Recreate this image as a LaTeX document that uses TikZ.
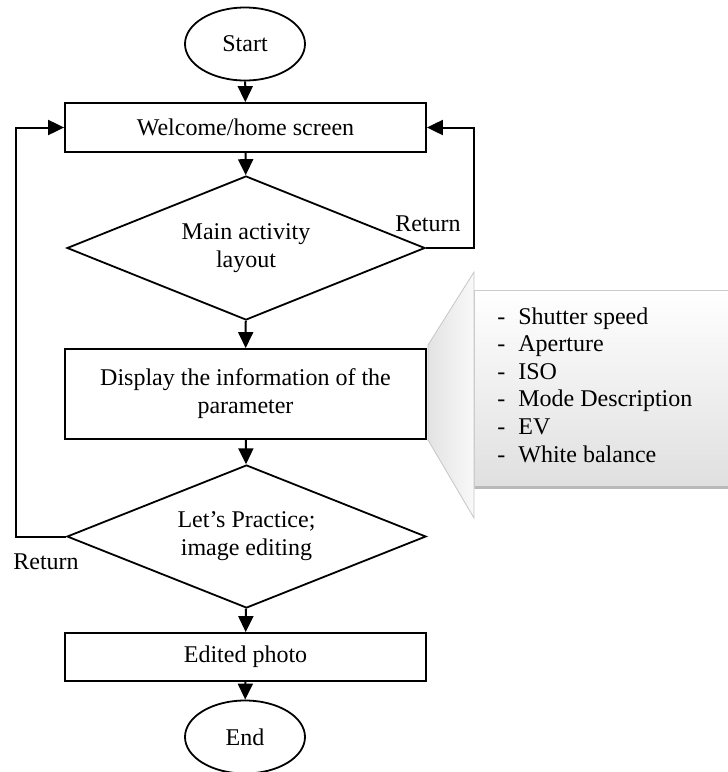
\documentclass[tikz,border=0pt]{standalone}
\usepackage{fontspec}
\setmainfont{Liberation Serif}
\usetikzlibrary{shapes.geometric,arrows.meta}

\begin{document}
\begin{tikzpicture}[x=0.5pt,y=-0.5pt,
    every node/.style={font=\fontsize{12}{14}\selectfont},
    termbox/.style={draw,ellipse,line width=0.9pt,minimum width=60pt,minimum height=36.5pt,inner sep=0pt},
    procbox/.style={draw,rectangle,line width=0.9pt,minimum width=180.5pt,align=center,inner sep=0pt},
    decbox/.style={draw,diamond,line width=0.9pt,aspect=2.5,minimum width=179pt,minimum height=72pt,align=center,inner sep=0pt},
    arr/.style={line width=1pt,-{Triangle[length=8pt,width=7.5pt]}}]
\useasboundingbox (0,0) rectangle (728,772);
\shadedraw[draw=gray!45,left color=gray!22,right color=gray!5] (474,272)--(428,345)--(428,440)--(474,518)--cycle;
\shadedraw[draw=gray!40,top color=white,bottom color=gray!25] (474,290) rectangle (730,488);
\draw[gray!55,line width=1.5pt] (475,487.5)--(730,487.5);
\foreach \t [count=\i] in {Shutter speed,Aperture,ISO,Mode Description,EV,White balance}
{       \node[anchor=base west,inner sep=0pt] (par\i) at (497,296.4+27.6*\i) {\makebox[10.5pt][l]{-}\t};
}
\node[termbox] (start) at (245,44) {Start};
\node[procbox,minimum height=24.5pt] (welcome) at (245.5,127.5) {Welcome/home screen};
\node[decbox] (main) at (246,248) {Main activity\\layout};
\node[procbox,minimum height=45pt] (display) at (245.5,394) {Display the information of the\\parameter};
\node[decbox,minimum width=179.5pt,minimum height=71.5pt] (practice) at (246.5,536.5) {Let’s Practice;\\image editing};
\node[procbox,minimum height=24pt] (edited) at (245.5,657) {Edited photo};
\node[termbox] (end) at (245,737) {End};
\node[anchor=base east,inner sep=0pt] (retR) at (461,231) {Return};
\node[anchor=base west,inner sep=0pt] (retL) at (13,569) {Return};
\draw[arr] (start) -- (welcome);
\draw[arr] (welcome) -- (main);
\draw[arr] (main) -- (display);
\draw[arr] (display) -- (practice);
\draw[arr] (practice) -- (edited);
\draw[arr] (edited) -- (end);
\draw[arr] (main.east) -- ++(48,0) |- (welcome.east);
\draw[arr] (practice.west) -- ++(-50,0) |- (welcome.west);
\end{tikzpicture}
\end{document}
